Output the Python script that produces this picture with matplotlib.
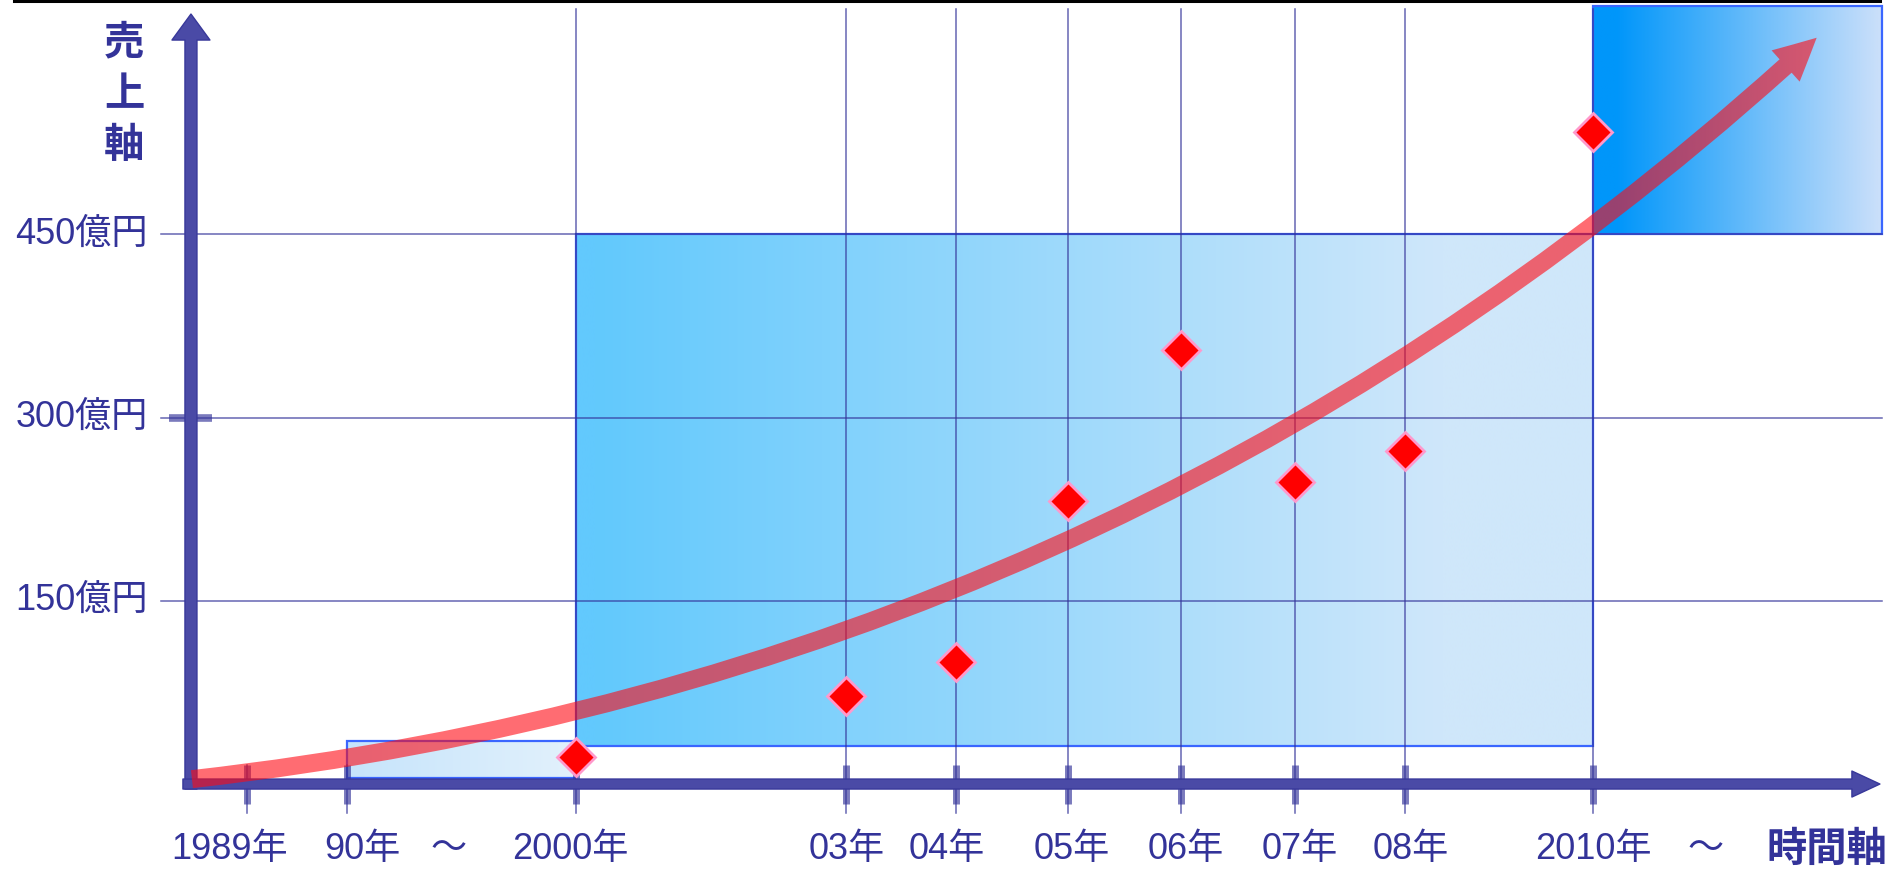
import numpy as np
import matplotlib.pyplot as plt
import matplotlib.colors as mcolors
from matplotlib.patches import Rectangle, FancyArrowPatch
from matplotlib.path import Path

# time axis: label for each year and its position along the axis
year_labels = ["1989年", "90年", "2000年", "03年", "04年", "05年", "06年", "07年", "08年", "2010年"]
year_pos = [0.0, 0.91, 2.99, 5.45, 6.45, 7.46, 8.49, 9.53, 10.53, 12.24]
label_shift = [-0.16, 0.14, -0.05, 0, -0.09, 0.04, 0.04, 0.04, 0.05, 0]

# yearly sales (億円)
sales_years = ["2000年", "03年", "04年", "05年", "06年", "07年", "08年", "2010年"]
sales = [22, 72, 100, 232, 355, 247, 273, 534]

y_ticks = [150, 300, 450]
y_tick_labels = ["150億円", "300億円", "450億円"]

# trend arrow (quadratic curve: start, control, tip)
trend_start = (-0.5, 4)
trend_ctrl = (8.0, 90)
trend_end = (14.27, 611)

NAVY = "#333399"
FONT = ["Liberation Sans", "Noto Sans CJK JP"]

fig = plt.figure(figsize=(18.94, 8.71), dpi=100)
ax = fig.add_axes([0, 0, 1, 1])


def gradient_box(x0, x1, y0, y1, c0, c1, start=0.0, stop=1.0, z=1.0):
    t = np.clip((np.linspace(0, 1, 400) - start) / (stop - start), 0, 1)
    a = np.array(mcolors.to_rgb(c0))
    b = np.array(mcolors.to_rgb(c1))
    img = a[None, :] * (1 - t[:, None]) + b[None, :] * t[:, None]
    ax.imshow(img[None, :, :], extent=[x0, x1, y0, y1], aspect="auto",
              interpolation="bilinear", zorder=z)
    ax.add_patch(Rectangle((x0, y0), x1 - x0, y1 - y0, fill=False,
                           ec="#3a66ff", lw=1.6, zorder=z + 0.1))


x90 = year_pos[year_labels.index("90年")]
x2000 = year_pos[year_labels.index("2000年")]
x2010 = year_pos[year_labels.index("2010年")]
x_right = 14.86

gradient_box(x90, x2000, 5, 35, "#c6e4fb", "#e2f1fc")
gradient_box(x2000, x2010, 31, 450, "#62c9fd", "#cfe7fa", start=0.02, stop=0.85)
gradient_box(x2010, x_right, 450, 637, "#0096fa", "#cce0fa", start=0.08)

# grid
for y in y_ticks:
    ax.plot([-0.78, x_right], [y, y], color=NAVY, lw=1.1, alpha=0.75, zorder=2)
for x in year_pos[2:]:
    ax.plot([x, x], [-23.7, 634.5], color=NAVY, lw=1.1, alpha=0.75, zorder=2)

# tick marks on the time axis
for x in year_pos:
    ax.plot([x, x], [15.6, -16.4], color=NAVY, lw=5, alpha=0.65,
            solid_capstyle="butt", zorder=4)
for x in year_pos[:2]:
    ax.plot([x, x], [15.6, -23.7], color=NAVY, lw=1.1, alpha=0.75, zorder=4)
ax.plot([-0.709, -0.318], [300, 300], color=NAVY, lw=5.5, alpha=0.65,
        solid_capstyle="butt", zorder=4)

# axis arrows
ax.add_patch(FancyArrowPatch((-0.509, -4.1), (-0.509, 630.4),
                             arrowstyle="simple,head_length=0.26,head_width=0.38,tail_width=0.12",
                             mutation_scale=72, shrinkA=0, shrinkB=0,
                             fc="#4a4aa6", ec="#38389a", lw=1, zorder=5))
ax.add_patch(FancyArrowPatch((-0.582, 0), (14.845, 0),
                             arrowstyle="simple,head_length=0.28,head_width=0.26,tail_width=0.1",
                             mutation_scale=72, shrinkA=0, shrinkB=0,
                             fc="#4a4aa6", ec="#38389a", lw=1, zorder=5))

# growth trend arrow
trend = Path([trend_start, trend_ctrl, trend_end], [Path.MOVETO, Path.CURVE3, Path.CURVE3])
ax.add_patch(FancyArrowPatch(path=trend,
                             arrowstyle="simple,head_length=0.42,head_width=0.42,tail_width=0.18",
                             mutation_scale=72, fc="#ff0a14", ec="none", alpha=0.6, zorder=6))

# sales points
sales_pos = [year_pos[year_labels.index(y)] for y in sales_years]
ax.plot(sales_pos, sales, linestyle="none", marker="D", ms=19.5,
        mfc="#ff0000", mec="#ff99cc", mew=2, zorder=7)

# labels
for y, lab in zip(y_ticks, y_tick_labels):
    ax.text(-0.9, y, lab, ha="right", va="center", fontsize=26, color=NAVY, family=FONT)
for x, dx, lab in zip(year_pos, label_shift, year_labels):
    ax.text(x + dx, -53.5, lab, ha="center", va="center", fontsize=26, color=NAVY, family=FONT)
for x in [1.83, 13.26]:
    ax.text(x, -53.5, "～", ha="center", va="center", fontsize=26, color=NAVY, family=FONT)
ax.text(14.36, -53.5, "時間軸", ha="center", va="center", fontsize=29,
        fontweight="bold", color=NAVY, family=FONT)
for i, ch in enumerate("売上軸"):
    ax.text(-1.118, 606 - i * 41.8, ch, ha="center", va="center", fontsize=29,
            fontweight="bold", color=NAVY, family=FONT)

# frame edge along the top
ax.plot([14 / 1894, 1880 / 1894], [1 - 1.5 / 871] * 2, transform=ax.transAxes,
        color="black", lw=2.2, clip_on=False, zorder=8)

ax.set_xlim(-2.245, 14.973)
ax.set_ylim(-71.2, 641.9)
ax.axis("off")

fig.savefig("out.png", dpi=100)
